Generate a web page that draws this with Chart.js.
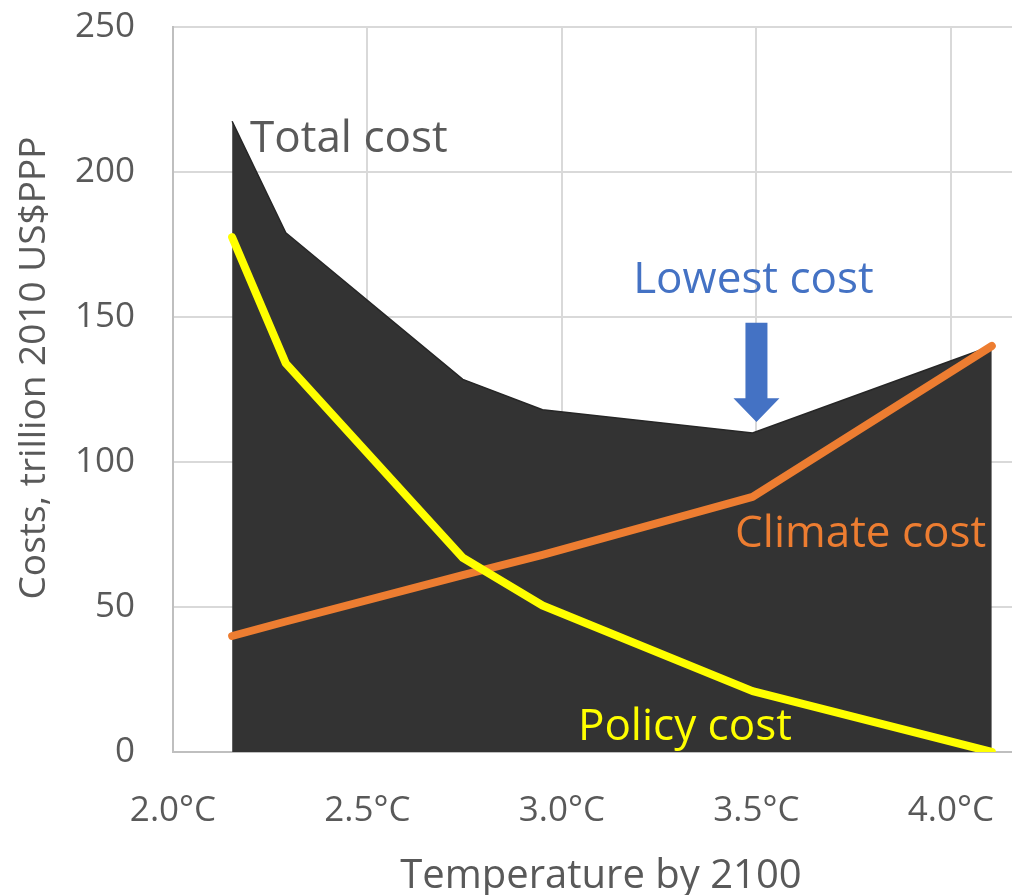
<!DOCTYPE html>
<html>
<head>
<meta charset="utf-8">
<script src="https://cdn.jsdelivr.net/npm/chart.js@4"></script>
<style>
html,body{margin:0;padding:0;background:#fff;}
#wrap{width:1012px;height:895px;}
</style>
</head>
<body>
<div id="wrap"><canvas id="c" width="1012" height="895"></canvas></div>
<script>
const temps = [2.152, 2.29, 2.745, 2.95, 3.49, 4.105];
const totalCost = [217.5, 179, 128.5, 118, 110, 140];
const climateCost = [40, 45, 61, 68, 88, 140];
const policyCost = [177.5, 134, 67, 50.5, 21, 0];
const xTicks = [2.0, 2.5, 3.0, 3.5, 4.0];
const yTicks = [0, 50, 100, 150, 200, 250];
const xTitle = 'Temperature by 2100';
const yTitle = 'Costs, trillion 2010 US$PPP';

const notes = [
  {text: 'Total cost', x: 2.198, y: 207, color: '#595959'},
  {text: 'Lowest cost', x: 3.183, y: 158.3, color: '#4472C4'},
  {text: 'Climate cost', x: 3.445, y: 70.7, color: '#ED7D31'},
  {text: 'Policy cost', x: 3.041, y: 4.1, color: '#FFFF00'}
];
const arrow = {x: 3.5, top: 148, headStart: 122, tip: 113.8, color: '#4472C4'};

const FONT = "'Open Sans', sans-serif";

const annot = {
  id: 'annot',
  afterDatasetsDraw(chart) {
    const ctx = chart.ctx, xs = chart.scales.x, ys = chart.scales.y;
    ctx.save();
    ctx.font = "44px " + FONT;
    ctx.textAlign = 'left';
    ctx.textBaseline = 'alphabetic';
    notes.forEach(n => {
      ctx.fillStyle = n.color;
      ctx.fillText(n.text, xs.getPixelForValue(n.x), ys.getPixelForValue(n.y));
    });
    const ax = xs.getPixelForValue(arrow.x);
    const t = ys.getPixelForValue(arrow.top);
    const h = ys.getPixelForValue(arrow.headStart);
    const p = ys.getPixelForValue(arrow.tip);
    ctx.fillStyle = arrow.color;
    ctx.beginPath();
    ctx.moveTo(ax - 11, t);
    ctx.lineTo(ax + 11, t);
    ctx.lineTo(ax + 11, h);
    ctx.lineTo(ax + 23, h);
    ctx.lineTo(ax, p);
    ctx.lineTo(ax - 23, h);
    ctx.lineTo(ax - 11, h);
    ctx.closePath();
    ctx.fill();
    ctx.restore();
  },
  afterDraw(chart) {
    const ctx = chart.ctx;
    ctx.save();
    ctx.fillStyle = '#595959';
    ctx.textBaseline = 'alphabetic';
    ctx.textAlign = 'center';
    ctx.font = "40px " + FONT;
    ctx.fillText(xTitle, 601, 888);
    ctx.font = "37px " + FONT;
    ctx.translate(45, 368);
    ctx.rotate(-Math.PI / 2);
    ctx.fillText(yTitle, 0, 0);
    ctx.restore();
  }
};

const mk = (arr) => temps.map((t, i) => ({x: t, y: arr[i]}));
const zeroPad = s => { s.paddingTop = 0; s.paddingBottom = 0; s.paddingLeft = 0; s.paddingRight = 0; };

new Chart(document.getElementById('c'), {
  type: 'line',
  data: {
    datasets: [
      {label: 'Policy cost', data: mk(policyCost), borderColor: '#FFFF00', borderWidth: 8,
       pointRadius: 0, fill: false, tension: 0, borderCapStyle: 'round', borderJoinStyle: 'round'},
      {label: 'Climate cost', data: mk(climateCost), borderColor: '#ED7D31', borderWidth: 8,
       pointRadius: 0, fill: false, tension: 0, borderCapStyle: 'round', borderJoinStyle: 'round'},
      {label: 'Total cost', data: mk(totalCost), borderColor: '#262626', borderWidth: 1.5,
       backgroundColor: '#333333', pointRadius: 0, fill: 'origin', tension: 0}
    ]
  },
  options: {
    responsive: false,
    animation: false,
    devicePixelRatio: 1,
    layout: {padding: {top: 27, left: 0, right: 0, bottom: 0}},
    plugins: {legend: {display: false}, tooltip: {enabled: false}},
    scales: {
      x: {
        type: 'linear', min: 2.0, max: 4.157,
        afterBuildTicks: s => { s.ticks = xTicks.map(v => ({value: v})); },
        afterFit: s => { s.height = 143; zeroPad(s); },
        grid: {color: '#d9d9d9', lineWidth: 2, drawTicks: false},
        border: {color: '#bfbfbf', width: 2},
        ticks: {color: '#595959', font: {family: FONT, size: 35}, padding: 38,
                callback: v => v.toFixed(1) + '°C', maxRotation: 0},
        title: {display: false}
      },
      y: {
        min: 0, max: 250,
        afterBuildTicks: s => { s.ticks = yTicks.map(v => ({value: v})); },
        afterFit: s => { s.width = 173; zeroPad(s); },
        grid: {color: '#d9d9d9', lineWidth: 2, drawTicks: false},
        border: {color: '#bfbfbf', width: 2},
        ticks: {color: '#595959', font: {family: FONT, size: 35}, padding: 38},
        title: {display: false}
      }
    }
  },
  plugins: [annot]
});
</script>
</body>
</html>
